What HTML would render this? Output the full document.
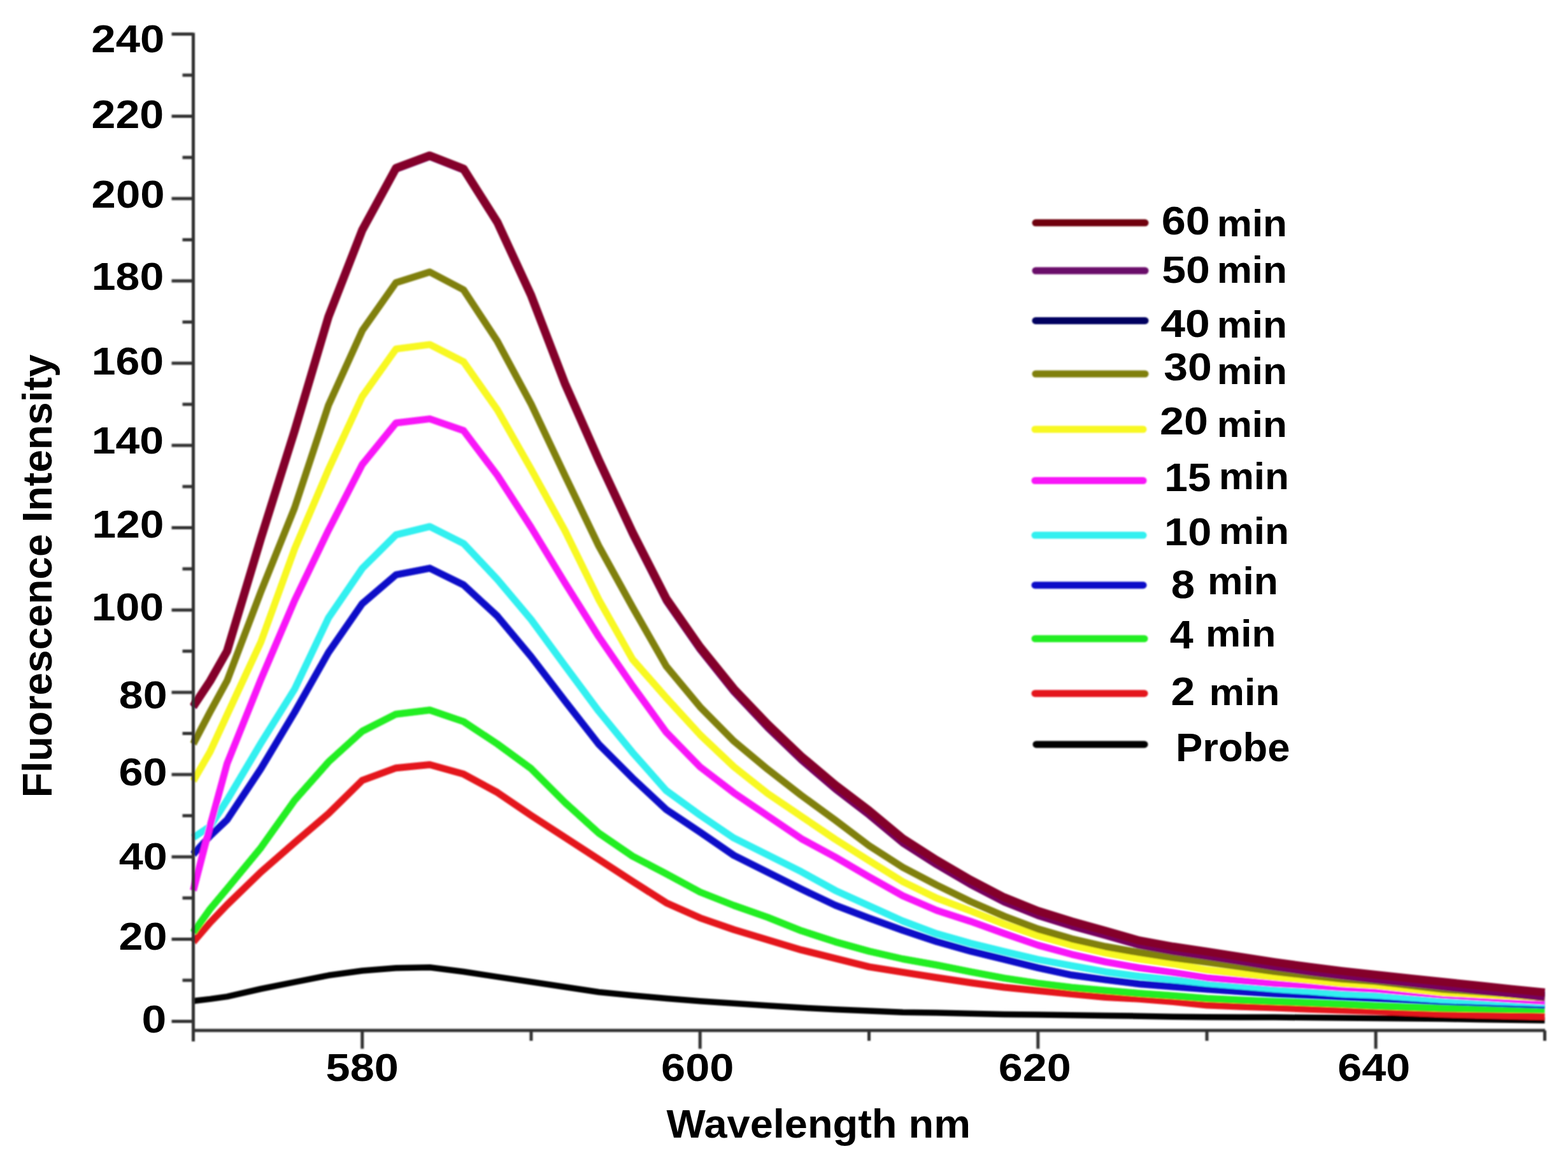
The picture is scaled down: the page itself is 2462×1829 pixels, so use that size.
<!DOCTYPE html>
<html><head><meta charset="utf-8"><title>Fluorescence Intensity vs Wavelength</title>
<style>html,body{margin:0;padding:0;background:#fff;} svg{display:block;}</style>
</head><body>
<svg width="2462" height="1829" viewBox="0 0 2462 1829">
<rect width="100%" height="100%" fill="#ffffff"/>
<defs><filter id="sb" filterUnits="userSpaceOnUse" x="0" y="0" width="2462" height="1829"><feGaussianBlur stdDeviation="1"/></filter><filter id="sb2" filterUnits="userSpaceOnUse" x="0" y="0" width="2462" height="1829"><feGaussianBlur stdDeviation="0.8"/></filter></defs>
<g filter="url(#sb)">
<polyline points="303.5,1571.5 330.0,1568.4 356.6,1564.6 409.6,1552.5 462.6,1541.9 515.7,1531.3 568.8,1524.0 621.8,1519.8 674.8,1518.8 727.9,1525.5 781.0,1533.6 834.0,1541.5 887.0,1549.5 940.1,1557.5 993.1,1562.8 1046.2,1567.5 1099.2,1571.7 1152.3,1575.2 1205.3,1578.7 1258.4,1582.1 1311.4,1584.7 1364.5,1587.1 1417.5,1589.2 1470.6,1590.1 1523.6,1591.3 1576.7,1592.5 1629.8,1593.1 1682.8,1593.7 1735.8,1594.4 1788.9,1595.2 1841.9,1596.3 1895.0,1596.7 1948.0,1596.9 2001.1,1597.1 2054.1,1597.6 2107.2,1598.1 2160.2,1598.6 2213.3,1599.0 2266.3,1599.6 2319.4,1600.4 2372.4,1601.2 2425.5,1602.0" fill="none" stroke="#050505" stroke-width="9.5" stroke-linejoin="round" stroke-linecap="butt"/>
<polyline points="303.5,1478.8 330.0,1448.2 356.6,1420.5 409.6,1369.1 462.6,1322.8 515.7,1277.4 568.8,1225.1 621.8,1205.7 674.8,1200.5 727.9,1215.3 781.0,1244.2 834.0,1280.2 887.0,1314.6 940.1,1349.1 993.1,1383.6 1046.2,1417.4 1099.2,1441.1 1152.3,1459.5 1205.3,1475.4 1258.4,1491.4 1311.4,1504.6 1364.5,1517.9 1417.5,1526.4 1470.6,1534.7 1523.6,1542.7 1576.7,1550.0 1629.8,1555.3 1682.8,1560.6 1735.8,1565.4 1788.9,1568.3 1841.9,1572.6 1895.0,1578.1 1948.0,1580.3 2001.1,1582.1 2054.1,1584.2 2107.2,1586.1 2160.2,1587.5 2213.3,1589.8 2266.3,1592.1 2319.4,1593.4 2372.4,1594.7 2425.5,1596.0" fill="none" stroke="#e4141e" stroke-width="11" stroke-linejoin="round" stroke-linecap="butt"/>
<polyline points="303.5,1464.0 330.0,1427.0 356.6,1395.3 409.6,1330.9 462.6,1256.4 515.7,1196.3 568.8,1148.0 621.8,1121.2 674.8,1114.8 727.9,1132.9 781.0,1168.0 834.0,1206.8 887.0,1259.8 940.1,1307.9 993.1,1344.1 1046.2,1371.8 1099.2,1400.5 1152.3,1421.5 1205.3,1440.1 1258.4,1461.3 1311.4,1478.6 1364.5,1493.4 1417.5,1505.5 1470.6,1515.0 1523.6,1525.6 1576.7,1535.6 1629.8,1543.6 1682.8,1550.3 1735.8,1555.0 1788.9,1559.5 1841.9,1563.3 1895.0,1567.6 1948.0,1570.1 2001.1,1572.3 2054.1,1574.2 2107.2,1576.6 2160.2,1579.2 2213.3,1581.2 2266.3,1583.0 2319.4,1583.7 2372.4,1584.4 2425.5,1585.0" fill="none" stroke="#22ee22" stroke-width="11" stroke-linejoin="round" stroke-linecap="butt"/>
<polyline points="303.5,1341.3 330.0,1312.2 356.6,1287.0 409.6,1206.9 462.6,1118.3 515.7,1024.4 568.8,947.7 621.8,902.4 674.8,892.1 727.9,918.2 781.0,967.4 834.0,1031.0 887.0,1100.4 940.1,1168.4 993.1,1221.4 1046.2,1271.0 1099.2,1306.3 1152.3,1342.9 1205.3,1369.4 1258.4,1395.9 1311.4,1421.1 1364.5,1441.3 1417.5,1460.5 1470.6,1478.2 1523.6,1493.2 1576.7,1506.2 1629.8,1519.3 1682.8,1530.8 1735.8,1538.1 1788.9,1544.8 1841.9,1549.1 1895.0,1553.1 1948.0,1556.7 2001.1,1560.2 2054.1,1562.6 2107.2,1565.0 2160.2,1567.5 2213.3,1569.8 2266.3,1572.2 2319.4,1574.1 2372.4,1576.1 2425.5,1578.0" fill="none" stroke="#0a0ac8" stroke-width="11" stroke-linejoin="round" stroke-linecap="butt"/>
<polyline points="303.5,1315.0 330.0,1297.4 356.6,1256.1 409.6,1166.9 462.6,1081.9 515.7,970.1 568.8,892.4 621.8,839.7 674.8,826.7 727.9,853.3 781.0,909.7 834.0,972.7 887.0,1045.1 940.1,1116.6 993.1,1181.3 1046.2,1241.3 1099.2,1279.7 1152.3,1315.7 1205.3,1342.2 1258.4,1368.7 1311.4,1397.9 1364.5,1421.9 1417.5,1446.0 1470.6,1465.8 1523.6,1480.9 1576.7,1493.8 1629.8,1506.3 1682.8,1516.2 1735.8,1525.7 1788.9,1532.8 1841.9,1538.1 1895.0,1543.7 1948.0,1548.1 2001.1,1552.5 2054.1,1556.1 2107.2,1560.3 2160.2,1562.6 2213.3,1566.3 2266.3,1569.8 2319.4,1571.6 2372.4,1573.3 2425.5,1575.0" fill="none" stroke="#30f0f0" stroke-width="11" stroke-linejoin="round" stroke-linecap="butt"/>
<polyline points="303.5,1398.0 330.0,1296.2 356.6,1198.7 409.6,1066.7 462.6,942.6 515.7,832.4 568.8,729.2 621.8,664.0 674.8,657.6 727.9,676.0 781.0,746.3 834.0,828.0 887.0,915.0 940.1,999.5 993.1,1076.5 1046.2,1149.7 1099.2,1204.0 1152.3,1244.7 1205.3,1280.7 1258.4,1316.8 1311.4,1345.5 1364.5,1376.5 1417.5,1406.4 1470.6,1429.2 1523.6,1446.4 1576.7,1465.5 1629.8,1483.9 1682.8,1498.3 1735.8,1510.2 1788.9,1519.5 1841.9,1526.9 1895.0,1534.9 1948.0,1539.6 2001.1,1544.0 2054.1,1546.9 2107.2,1550.5 2160.2,1552.9 2213.3,1557.7 2266.3,1562.3 2319.4,1565.5 2372.4,1568.8 2425.5,1572.0" fill="none" stroke="#f818f8" stroke-width="11" stroke-linejoin="round" stroke-linecap="butt"/>
<polyline points="303.5,1226.0 330.0,1180.0 356.6,1122.1 409.6,1008.0 462.6,861.6 515.7,737.1 568.8,622.5 621.8,547.9 674.8,540.9 727.9,568.0 781.0,643.5 834.0,736.6 887.0,833.0 940.1,941.2 993.1,1035.0 1046.2,1095.5 1099.2,1153.4 1152.3,1203.8 1205.3,1245.7 1258.4,1281.7 1311.4,1317.6 1364.5,1351.2 1417.5,1384.1 1470.6,1410.0 1523.6,1429.8 1576.7,1450.9 1629.8,1469.3 1682.8,1484.0 1735.8,1496.2 1788.9,1505.8 1841.9,1513.2 1895.0,1522.8 1948.0,1528.6 2001.1,1533.7 2054.1,1538.6 2107.2,1544.0 2160.2,1547.1 2213.3,1552.9 2266.3,1558.5 2319.4,1561.2 2372.4,1563.9 2425.5,1566.5" fill="none" stroke="#f8f820" stroke-width="11" stroke-linejoin="round" stroke-linecap="butt"/>
<polyline points="303.5,1167.9 330.0,1117.4 356.6,1068.7 409.6,929.0 462.6,797.1 515.7,636.2 568.8,518.9 621.8,443.7 674.8,427.0 727.9,455.0 781.0,535.8 834.0,634.4 887.0,746.3 940.1,857.0 993.1,953.0 1046.2,1046.0 1099.2,1109.8 1152.3,1163.6 1205.3,1207.7 1258.4,1248.9 1311.4,1287.5 1364.5,1327.7 1417.5,1361.7 1470.6,1389.4 1523.6,1415.2 1576.7,1438.4 1629.8,1458.4 1682.8,1473.8 1735.8,1486.0 1788.9,1495.4 1841.9,1503.5 1895.0,1510.6 1948.0,1517.9 2001.1,1525.3 2054.1,1531.3 2107.2,1537.1 2160.2,1540.8 2213.3,1547.0 2266.3,1553.2 2319.4,1556.8 2372.4,1560.5 2425.5,1564.0" fill="none" stroke="#808010" stroke-width="11" stroke-linejoin="round" stroke-linecap="butt"/>
<polyline points="303.5,1110.0 330.0,1070.0 356.6,1023.1 409.6,846.3 462.6,677.4 515.7,498.3 568.8,362.1 621.8,264.9 674.8,245.2 727.9,266.0 781.0,350.0 834.0,464.8 887.0,603.3 940.1,723.8 993.1,837.7 1046.2,942.3 1099.2,1018.6 1152.3,1084.6 1205.3,1140.4 1258.4,1191.2 1311.4,1236.0 1364.5,1276.5 1417.5,1320.4 1470.6,1354.4 1523.6,1385.3 1576.7,1412.9 1629.8,1434.2 1682.8,1450.8 1735.8,1465.5 1788.9,1480.7 1841.9,1490.3 1895.0,1498.1 1948.0,1506.3 2001.1,1514.7 2054.1,1522.0 2107.2,1528.6 2160.2,1534.5 2213.3,1540.1 2266.3,1545.7 2319.4,1551.3 2372.4,1556.9 2425.5,1562.3" fill="none" stroke="#000080" stroke-width="11" stroke-linejoin="round" stroke-linecap="butt"/>
<polyline points="303.5,1110.0 330.0,1070.0 356.6,1023.2 409.6,846.5 462.6,677.7 515.7,498.7 568.8,362.6 621.8,265.5 674.8,245.9 727.9,266.8 781.0,350.9 834.0,465.8 887.0,604.3 940.1,724.8 993.1,838.7 1046.2,943.3 1099.2,1019.6 1152.3,1086.0 1205.3,1142.2 1258.4,1193.4 1311.4,1238.6 1364.5,1279.5 1417.5,1323.5 1470.6,1357.5 1523.6,1388.5 1576.7,1416.1 1629.8,1437.5 1682.8,1454.1 1735.8,1468.8 1788.9,1484.1 1841.9,1493.8 1895.0,1501.6 1948.0,1509.8 2001.1,1518.3 2054.1,1525.7 2107.2,1532.3 2160.2,1538.2 2213.3,1543.9 2266.3,1549.5 2319.4,1555.2 2372.4,1560.9 2425.5,1566.3" fill="none" stroke="#76065e" stroke-width="11" stroke-linejoin="round" stroke-linecap="butt"/>
<polyline points="303.5,1109.0 330.0,1069.0 356.6,1022.1 409.6,845.3 462.6,676.4 515.7,497.3 568.8,361.1 621.8,263.9 674.8,244.2 727.9,265.0 781.0,349.0 834.0,463.8 887.0,601.9 940.1,722.0 993.1,835.5 1046.2,939.7 1099.2,1015.6 1152.3,1081.4 1205.3,1137.0 1258.4,1187.6 1311.4,1232.2 1364.5,1272.5 1417.5,1316.4 1470.6,1350.4 1523.6,1381.3 1576.7,1408.9 1629.8,1430.2 1682.8,1446.8 1735.8,1461.5 1788.9,1476.7 1841.9,1486.3 1895.0,1494.1 1948.0,1502.3 2001.1,1510.7 2054.1,1518.0 2107.2,1524.6 2160.2,1530.5 2213.3,1536.1 2266.3,1541.7 2319.4,1547.3 2372.4,1552.9 2425.5,1558.3" fill="none" stroke="#84042c" stroke-width="13" stroke-linejoin="round" stroke-linecap="butt"/>
</g>
<g stroke="#303030" stroke-width="5" fill="none" filter="url(#sb2)">
<line x1="303.5" y1="51.5" x2="303.5" y2="1635"/>
<line x1="301" y1="1617.8" x2="2426" y2="1617.8"/>
<line x1="269.5" y1="1603.6" x2="303.5" y2="1603.6"/>
<line x1="269.5" y1="1474.4" x2="303.5" y2="1474.4"/>
<line x1="269.5" y1="1345.2" x2="303.5" y2="1345.2"/>
<line x1="269.5" y1="1216.1" x2="303.5" y2="1216.1"/>
<line x1="269.5" y1="1086.9" x2="303.5" y2="1086.9"/>
<line x1="269.5" y1="957.7" x2="303.5" y2="957.7"/>
<line x1="269.5" y1="828.5" x2="303.5" y2="828.5"/>
<line x1="269.5" y1="699.3" x2="303.5" y2="699.3"/>
<line x1="269.5" y1="570.2" x2="303.5" y2="570.2"/>
<line x1="269.5" y1="441.0" x2="303.5" y2="441.0"/>
<line x1="269.5" y1="311.8" x2="303.5" y2="311.8"/>
<line x1="269.5" y1="182.6" x2="303.5" y2="182.6"/>
<line x1="269.5" y1="53.4" x2="303.5" y2="53.4"/>
<line x1="286.5" y1="1539.0" x2="303.5" y2="1539.0"/>
<line x1="286.5" y1="1409.8" x2="303.5" y2="1409.8"/>
<line x1="286.5" y1="1280.6" x2="303.5" y2="1280.6"/>
<line x1="286.5" y1="1151.5" x2="303.5" y2="1151.5"/>
<line x1="286.5" y1="1022.3" x2="303.5" y2="1022.3"/>
<line x1="286.5" y1="893.1" x2="303.5" y2="893.1"/>
<line x1="286.5" y1="763.9" x2="303.5" y2="763.9"/>
<line x1="286.5" y1="634.8" x2="303.5" y2="634.8"/>
<line x1="286.5" y1="505.6" x2="303.5" y2="505.6"/>
<line x1="286.5" y1="376.4" x2="303.5" y2="376.4"/>
<line x1="286.5" y1="247.2" x2="303.5" y2="247.2"/>
<line x1="286.5" y1="118.0" x2="303.5" y2="118.0"/>
<line x1="568.8" y1="1617.8" x2="568.8" y2="1646.5"/>
<line x1="1099.2" y1="1617.8" x2="1099.2" y2="1646.5"/>
<line x1="1629.8" y1="1617.8" x2="1629.8" y2="1646.5"/>
<line x1="2160.2" y1="1617.8" x2="2160.2" y2="1646.5"/>
<line x1="834.0" y1="1617.8" x2="834.0" y2="1634"/>
<line x1="1364.5" y1="1617.8" x2="1364.5" y2="1634"/>
<line x1="1895.0" y1="1617.8" x2="1895.0" y2="1634"/>
<line x1="2425.5" y1="1617.8" x2="2425.5" y2="1634"/>
</g>
<g font-family="Liberation Sans, Arial, sans-serif" font-weight="bold" fill="#000">
<text transform="translate(143.29,82.39) scale(1.1225,1)" font-size="61.44">240</text>
<text transform="translate(143.62,200.96) scale(1.0713,1)" font-size="63.56">220</text>
<text transform="translate(143.59,326.18) scale(1.1138,1)" font-size="61.86">200</text>
<text transform="translate(143.71,455.39) scale(1.1098,1)" font-size="61.30">180</text>
<text transform="translate(143.71,588.28) scale(1.1047,1)" font-size="61.58">160</text>
<text transform="translate(143.71,712.20) scale(1.1414,1)" font-size="59.60">140</text>
<text transform="translate(144.53,844.28) scale(1.0995,1)" font-size="61.58">120</text>
<text transform="translate(143.71,974.28) scale(1.1047,1)" font-size="61.58">100</text>
<text transform="translate(186.82,1111.78) scale(1.1065,1)" font-size="61.58">80</text>
<text transform="translate(186.47,1232.98) scale(1.1119,1)" font-size="61.58">60</text>
<text transform="translate(186.68,1364.80) scale(1.1428,1)" font-size="59.75">40</text>
<text transform="translate(186.61,1491.38) scale(1.1097,1)" font-size="61.58">20</text>
<text transform="translate(222.61,1620.78) scale(1.1316,1)" font-size="61.58">0</text>
<text transform="translate(511.58,1697.28) scale(1.1121,1)" font-size="61.58">580</text>
<text transform="translate(1038.07,1697.28) scale(1.1096,1)" font-size="61.72">600</text>
<text transform="translate(1567.78,1697.28) scale(1.1056,1)" font-size="61.72">620</text>
<text transform="translate(2100.27,1697.28) scale(1.1086,1)" font-size="61.72">640</text>
<text transform="translate(1046.54,1785.60) scale(1.0440,1)" font-size="62.21">Wavelength nm</text>
<text transform="translate(81,1252.31) rotate(-90) scale(1.0024,1)" font-size="64.10">Fluorescence Intensity</text>
<text transform="translate(1823.77,367.78) scale(1.0977,1)" font-size="62.29">60</text>
<text transform="translate(1824.19,443.80) scale(1.1325,1)" font-size="60.03">50</text>
<text transform="translate(1822.35,529.38) scale(1.1318,1)" font-size="61.58">40</text>
<text transform="translate(1827.24,596.73) scale(1.1073,1)" font-size="61.35">30</text>
<text transform="translate(1821.01,681.89) scale(1.1236,1)" font-size="60.73">20</text>
<text transform="translate(1828.15,770.77) scale(1.0441,1)" font-size="63.04">15</text>
<text transform="translate(1828.10,855.79) scale(1.0851,1)" font-size="61.44">10</text>
<text transform="translate(1838.65,938.68) scale(1.0803,1)" font-size="62.15">8</text>
<text transform="translate(1836.80,1018.00) scale(1.0627,1)" font-size="62.50">4</text>
<text transform="translate(1838.53,1106.90) scale(1.0752,1)" font-size="63.04">2</text>
<text transform="translate(1910.70,370.50) scale(1.0537,1)" font-size="58.90">min</text>
<text transform="translate(1910.70,444.40) scale(1.0464,1)" font-size="59.31">min</text>
<text transform="translate(1910.70,530.00) scale(1.0562,1)" font-size="58.76">min</text>
<text transform="translate(1910.70,603.40) scale(1.0439,1)" font-size="59.45">min</text>
<text transform="translate(1910.70,685.50) scale(1.0687,1)" font-size="58.07">min</text>
<text transform="translate(1913.70,768.40) scale(1.0343,1)" font-size="60.00">min</text>
<text transform="translate(1913.70,853.50) scale(1.0439,1)" font-size="59.45">min</text>
<text transform="translate(1895.98,933.40) scale(1.0276,1)" font-size="60.69">min</text>
<text transform="translate(1893.11,1015.00) scale(1.0576,1)" font-size="58.62">min</text>
<text transform="translate(1898.58,1106.90) scale(1.0394,1)" font-size="60.00">min</text>
<text transform="translate(1846.06,1194.90) scale(1.0017,1)" font-size="63.23">Probe</text>
</g>
<g filter="url(#sb)">
<line x1="1626" y1="349.8" x2="1798" y2="349.8" stroke="#700010" stroke-width="11" stroke-linecap="round"/>
<line x1="1626" y1="425" x2="1798" y2="425" stroke="#6a0a6a" stroke-width="11" stroke-linecap="round"/>
<line x1="1626" y1="503.4" x2="1798" y2="503.4" stroke="#000060" stroke-width="11" stroke-linecap="round"/>
<line x1="1626" y1="587" x2="1798" y2="587" stroke="#808010" stroke-width="11" stroke-linecap="round"/>
<line x1="1625" y1="674" x2="1795" y2="674" stroke="#f8f820" stroke-width="11" stroke-linecap="round"/>
<line x1="1625" y1="754.5" x2="1795" y2="754.5" stroke="#f818f8" stroke-width="11" stroke-linecap="round"/>
<line x1="1625" y1="840.3" x2="1795" y2="840.3" stroke="#30f0f0" stroke-width="11" stroke-linecap="round"/>
<line x1="1625" y1="918.7" x2="1795" y2="918.7" stroke="#0a0ac8" stroke-width="11" stroke-linecap="round"/>
<line x1="1625" y1="1002.7" x2="1797" y2="1002.7" stroke="#22ee22" stroke-width="11" stroke-linecap="round"/>
<line x1="1625" y1="1088.7" x2="1797" y2="1088.7" stroke="#e4141e" stroke-width="11" stroke-linecap="round"/>
<line x1="1627" y1="1168.7" x2="1797" y2="1168.7" stroke="#050505" stroke-width="11" stroke-linecap="round"/>
</g>
</svg>
</body></html>
